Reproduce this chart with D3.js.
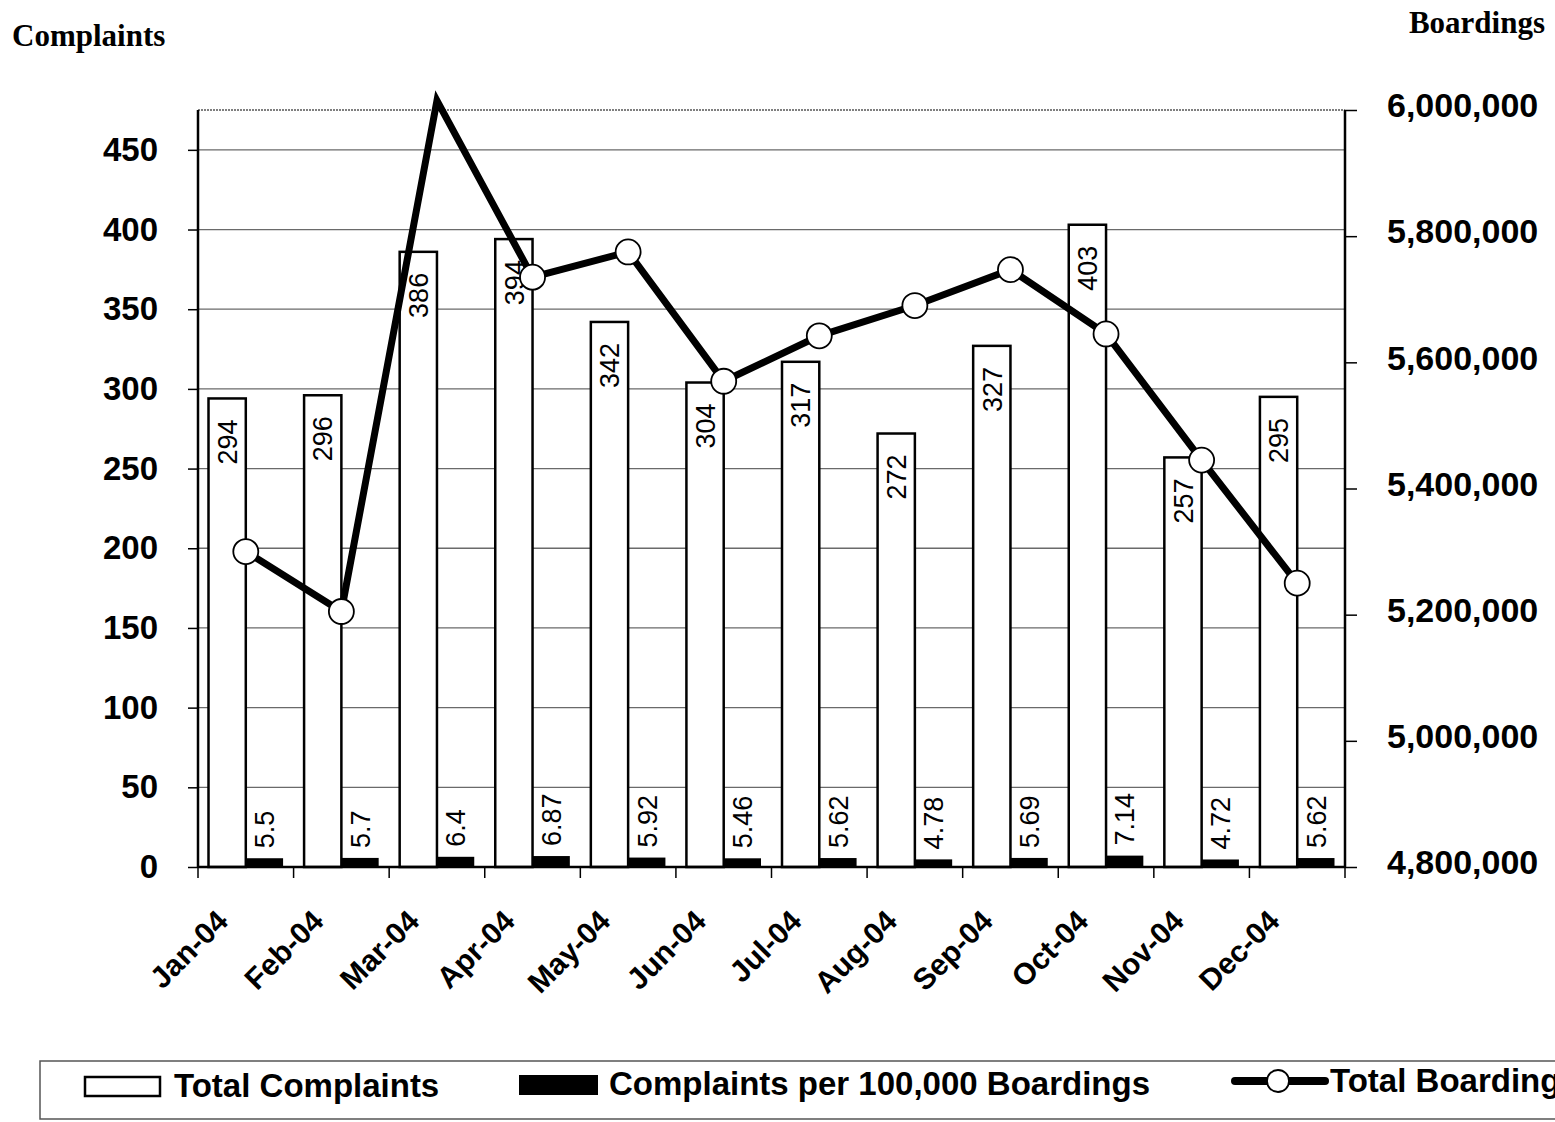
<!DOCTYPE html>
<html>
<head>
<meta charset="utf-8">
<script src="https://cdn.jsdelivr.net/npm/d3@7"></script>
<style>
  html, body { margin: 0; padding: 0; background: #fff; }
  svg { display: block; }
</style>
</head>
<body>
<script>
// chart data
var months = ["Jan-04", "Feb-04", "Mar-04", "Apr-04", "May-04", "Jun-04",
              "Jul-04", "Aug-04", "Sep-04", "Oct-04", "Nov-04", "Dec-04"];
var totalComplaints = [294, 296, 386, 394, 342, 304, 317, 272, 327, 403, 257, 295];
var per100k = [5.5, 5.7, 6.4, 6.87, 5.92, 5.46, 5.62, 4.78, 5.69, 7.14, 4.72, 5.62];
var boardings = [5300000, 5205000, 6015000, 5735000, 5775000, 5570000,
                 5642000, 5690000, 5747000, 5645000, 5445000, 5250000];
var leftTicks = [0, 50, 100, 150, 200, 250, 300, 350, 400, 450];
var rightTicks = [4800000, 5000000, 5200000, 5400000, 5600000, 5800000, 6000000];
var seriesNames = ["Total Complaints", "Complaints per 100,000 Boardings", "Total Boardings"];

var W = 1555, H = 1122;
var plot = { left: 198, right: 1345, top: 110, bottom: 867 };

var svg = d3.select("body").append("svg")
    .attr("width", W).attr("height", H)
    .style("font-family", "'Liberation Sans', Arial, sans-serif");

var x = d3.scaleBand().domain(months).range([plot.left, plot.right]).padding(0);
var xInner = d3.scaleBand().domain(["total", "per"])
    .range([10.5, x.bandwidth() - 10.5]).padding(0);
var yL = d3.scaleLinear().domain([0, 475]).range([plot.bottom, plot.top]);
var yR = d3.scaleLinear().domain([4800000, 6000000]).range([plot.bottom, plot.top]);

// gridlines
svg.append("g").selectAll("line").data(leftTicks.filter(function (d) { return d > 0; }))
  .enter().append("line")
    .attr("x1", plot.left).attr("x2", plot.right)
    .attr("y1", function (d) { return yL(d); }).attr("y2", function (d) { return yL(d); })
    .attr("stroke", "#6a6a6a").attr("stroke-width", 1.3);

// top border (dotted)
svg.append("line")
    .attr("x1", plot.left).attr("x2", plot.right)
    .attr("y1", plot.top).attr("y2", plot.top)
    .attr("stroke", "#555").attr("stroke-width", 1.5).attr("stroke-dasharray", "2,1");

// bars
var cat = svg.append("g").selectAll("g").data(months).enter().append("g")
    .attr("transform", function (d) { return "translate(" + x(d) + ",0)"; });

cat.append("rect")
    .attr("x", xInner("total")).attr("width", xInner.bandwidth())
    .attr("y", function (d, i) { return yL(totalComplaints[i]); })
    .attr("height", function (d, i) { return yL(0) - yL(totalComplaints[i]); })
    .attr("fill", "#fff").attr("stroke", "#000").attr("stroke-width", 2.5);

cat.append("rect")
    .attr("x", xInner("per")).attr("width", xInner.bandwidth())
    .attr("y", function (d, i) { return yL(per100k[i]); })
    .attr("height", function (d, i) { return yL(0) - yL(per100k[i]); })
    .attr("fill", "#000");

// value labels
cat.append("text")
    .attr("transform", function (d, i) {
      return "translate(" + (xInner("total") + xInner.bandwidth() / 2) + "," + (yL(totalComplaints[i]) + 21) + ") rotate(-90)";
    })
    .attr("text-anchor", "end").attr("dy", "0.36em")
    .attr("font-size", 27).attr("fill", "#000")
    .text(function (d, i) { return totalComplaints[i]; });

cat.append("text")
    .attr("transform", function (d, i) {
      return "translate(" + (xInner("per") + xInner.bandwidth() / 2) + "," + (yL(per100k[i]) - 10) + ") rotate(-90)";
    })
    .attr("text-anchor", "start").attr("dy", "0.36em")
    .attr("font-size", 27).attr("fill", "#000")
    .text(function (d, i) { return per100k[i]; });

// left axis
var axL = svg.append("g").attr("transform", "translate(" + plot.left + ",0)")
    .call(d3.axisLeft(yL).tickValues(leftTicks).tickSize(10).tickPadding(30));
axL.select(".domain").attr("stroke-width", 2.5).attr("d", "M0," + plot.bottom + "V" + plot.top);
axL.selectAll(".tick line").attr("stroke-width", 1.5);
axL.selectAll("text").attr("font-size", 33).attr("font-weight", "bold")
    .attr("font-family", "'Liberation Sans', Arial, sans-serif").attr("fill", "#000");

// right axis
var axR = svg.append("g").attr("transform", "translate(" + plot.right + ",0)")
    .call(d3.axisRight(yR).tickValues(rightTicks).tickSize(12).tickPadding(30)
          .tickFormat(d3.format(",")));
axR.select(".domain").attr("stroke-width", 2.5).attr("d", "M0," + plot.bottom + "V" + plot.top);
axR.selectAll(".tick line").attr("stroke-width", 1.5);
axR.selectAll("text").attr("font-size", 34).attr("font-weight", "bold").attr("dy", "0.2em")
    .attr("font-family", "'Liberation Sans', Arial, sans-serif").attr("fill", "#000");

// bottom axis
var axB = svg.append("g").attr("transform", "translate(0," + plot.bottom + ")");
axB.append("line").attr("x1", plot.left).attr("x2", plot.right)
    .attr("stroke", "#000").attr("stroke-width", 2.5);
axB.selectAll(".tk").data(d3.range(months.length + 1)).enter().append("line")
    .attr("x1", function (i) { return plot.left + i * x.step(); })
    .attr("x2", function (i) { return plot.left + i * x.step(); })
    .attr("y1", 0).attr("y2", 11)
    .attr("stroke", "#000").attr("stroke-width", 1.5);
axB.selectAll("text").data(months).enter().append("text")
    .attr("transform", function (d) {
      return "translate(" + (x(d) + x.bandwidth() / 2 - 16) + ",56) rotate(-45)";
    })
    .attr("text-anchor", "end").attr("font-size", 30).attr("font-weight", "bold")
    .text(function (d) { return d; });

// boardings line
var line = d3.line()
    .x(function (d, i) { return x(months[i]) + x.bandwidth() / 2; })
    .y(function (d) { return yR(d); });
svg.append("path").datum(boardings)
    .attr("d", line).attr("fill", "none")
    .attr("stroke", "#000").attr("stroke-width", 7).attr("stroke-linejoin", "miter");

svg.append("g").selectAll("circle")
    .data(boardings.map(function (v, i) { return { v: v, m: months[i] }; })
          .filter(function (d) { return d.v <= yR.domain()[1]; }))
  .enter().append("circle")
    .attr("cx", function (d) { return x(d.m) + x.bandwidth() / 2; })
    .attr("cy", function (d) { return yR(d.v); })
    .attr("r", 12.5)
    .attr("fill", "#fff").attr("stroke", "#000").attr("stroke-width", 1.8);

// axis titles
svg.append("text").attr("x", 12).attr("y", 46)
    .attr("font-family", "'Liberation Serif', 'Times New Roman', serif")
    .attr("font-weight", "bold").attr("font-size", 31).text("Complaints");
svg.append("text").attr("x", 1545).attr("y", 33).attr("text-anchor", "end")
    .attr("font-family", "'Liberation Serif', 'Times New Roman', serif")
    .attr("font-weight", "bold").attr("font-size", 31).text("Boardings");

// legend
var lg = svg.append("g");
lg.append("rect").attr("x", 40).attr("y", 1061).attr("width", 1600).attr("height", 58)
    .attr("fill", "none").attr("stroke", "#555").attr("stroke-width", 1.5);

lg.append("rect").attr("x", 85).attr("y", 1077).attr("width", 75).attr("height", 19)
    .attr("fill", "#fff").attr("stroke", "#000").attr("stroke-width", 2.5);
lg.append("text").attr("x", 174).attr("y", 1097)
    .attr("font-size", 33).attr("font-weight", "bold").text(seriesNames[0]);

lg.append("rect").attr("x", 519).attr("y", 1075).attr("width", 79).attr("height", 20)
    .attr("fill", "#000");
lg.append("text").attr("x", 609).attr("y", 1095)
    .attr("font-size", 33).attr("font-weight", "bold").text(seriesNames[1]);

lg.append("line").attr("x1", 1235).attr("x2", 1325).attr("y1", 1081).attr("y2", 1081)
    .attr("stroke", "#000").attr("stroke-width", 8).attr("stroke-linecap", "round");
lg.append("circle").attr("cx", 1278).attr("cy", 1081).attr("r", 11)
    .attr("fill", "#fff").attr("stroke", "#000").attr("stroke-width", 1.8);
lg.append("text").attr("x", 1330).attr("y", 1092)
    .attr("font-size", 33).attr("font-weight", "bold").text(seriesNames[2]);
</script>
</body>
</html>
